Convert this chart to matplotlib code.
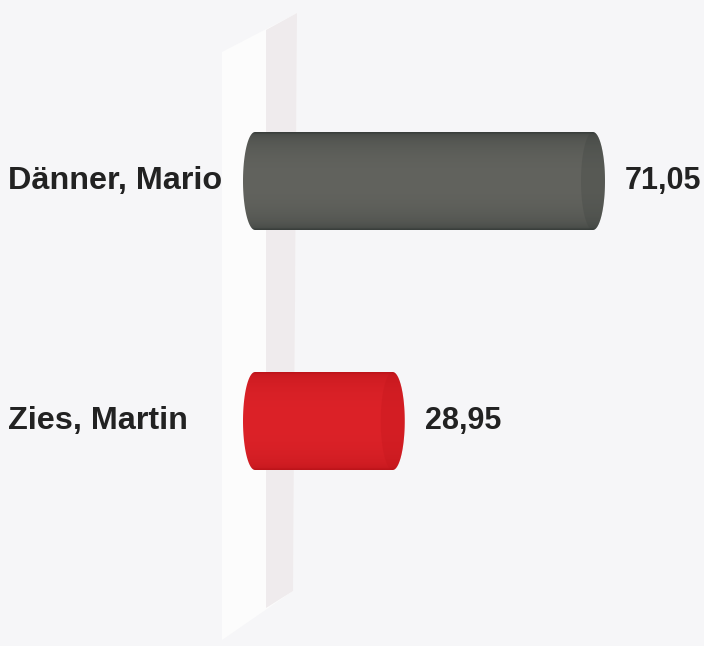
import numpy as np
import matplotlib
matplotlib.use("Agg")
import matplotlib.pyplot as plt
from matplotlib.patches import Polygon, PathPatch
from matplotlib.path import Path

names = ["Dänner, Mario", "Zies, Martin"]
values = [71.05, 28.95]
value_labels = ["71,05", "28,95"]
# base colours of the cylinders (dark edge, light middle)
bar_dark = ["#3a3f3c", "#bd141a"]
bar_light = ["#62635e", "#dc2228"]

W, H = 704, 646
fig = plt.figure(figsize=(W / 100, H / 100), dpi=100)
fig.patch.set_facecolor("#f6f6f8")
ax = fig.add_axes([0, 0, 1, 1])
ax.set_facecolor("#f6f6f8")

# pixel scale: zero at x=255, 4.757 px per unit; rows 240 px apart
px = 4.757
x0 = 255
ax.set_xlim(-x0 / px, (W - x0) / px)
ax.set_ylim((H - 181) / 240, -181 / 240)
ax.axis("off")


# back wall (decoration, figure pixel coords, y from top)
def fpix(pts):
    return [(x / W, 1 - y / H) for x, y in pts]


ax.add_patch(Polygon(fpix([(222, 52), (297, 13), (293, 591), (222, 640)]),
                     closed=True, transform=fig.transFigure,
                     facecolor="#fcfcfc", edgecolor="none", zorder=0.5))
ax.add_patch(Polygon(fpix([(266, 30), (297, 13), (293, 591), (266, 608)]),
                     closed=True, transform=fig.transFigure,
                     facecolor="#efebed", edgecolor="none", zorder=0.6))

bar_h = 98 / 240
cap = 12 / px  # half width of the end ellipse in data units
for i, (v, d, l) in enumerate(zip(values, bar_dark, bar_light)):
    top, bot = i - bar_h / 2, i + bar_h / 2
    # outline: body plus elliptic ends
    t = np.linspace(-np.pi / 2, np.pi / 2, 40)
    right = np.column_stack([v + cap * np.cos(t), i + bar_h / 2 * np.sin(t)])
    left = np.column_stack([-cap * np.cos(t[::-1]), i + bar_h / 2 * np.sin(t[::-1])])
    verts = np.vstack([right, left, right[:1]])
    patch = PathPatch(Path(verts), facecolor="none", edgecolor="none")
    ax.add_patch(patch)
    # vertical gradient for the round look
    s = np.linspace(-1, 1, 60)
    k = np.sqrt(1 - s ** 2) ** 0.7
    c0 = np.array(matplotlib.colors.to_rgb(d))
    c1 = np.array(matplotlib.colors.to_rgb(l))
    grad = c0[None, :] + (c1 - c0)[None, :] * k[:, None]
    img = np.repeat(grad[:, None, :], 2, axis=1)
    im = ax.imshow(img, extent=[-cap, v + cap, bot, top], aspect="auto",
                   interpolation="bilinear", zorder=2)
    im.set_clip_path(patch)
    # end cap shading
    capt = np.linspace(0, 2 * np.pi, 80)
    ax.fill(v + cap * np.cos(capt), i + bar_h / 2 * np.sin(capt),
            color=d, alpha=0.25, zorder=3, lw=0)

    ax.text((8 - x0) / px, i, names[i], ha="left", va="center",
            fontsize=23.3, fontweight="bold", color="#222222",
            family="Liberation Sans", zorder=4)
    ax.text(v + cap + 20 / px, i, value_labels[i], ha="left", va="center",
            fontsize=22, fontweight="bold", color="#222222",
            family="Liberation Sans", zorder=4)

fig.savefig("out.png", dpi=100, facecolor=fig.get_facecolor())
